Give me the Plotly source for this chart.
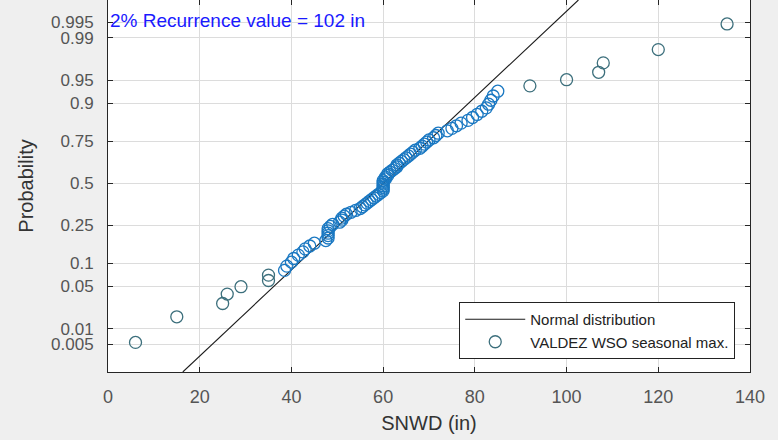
import plotly.graph_objects as go
from statistics import NormalDist

nd = NormalDist()

# seasonal max snow depth (in), sorted
snwd = [6, 15, 25, 26, 29, 35, 35, 38.5, 39, 40,
        40.5, 41.5, 42.5, 43, 44, 45, 47.5, 48, 48, 48,
        48, 48, 48.5, 49, 50.5, 51, 51, 51.5, 52, 53,
        54, 55, 55.5, 56, 56.5, 57, 57.5, 58, 58.5, 59,
        59.5, 60, 60, 60, 60, 60, 60, 60, 60.5, 60.5,
        61, 61, 61.5, 62, 62.5, 63, 63, 63.5, 64, 64.5,
        65, 65.5, 66, 66.5, 67, 68, 68.5, 69, 69.5, 70,
        71, 71.5, 72, 74, 75, 76, 77, 78.5, 79.5, 80.5,
        81.5, 82.5, 83, 83.5, 84, 85, 92, 100, 107, 108,
        120, 135]

# fitted normal (mean, std) of the reference line
fit_mean = 60.1
fit_std = 14.5

prob_ticks = [0.005, 0.01, 0.05, 0.1, 0.25, 0.5, 0.75, 0.9, 0.95, 0.99, 0.995]
prob_labels = ['0.005', '0.01', '0.05', '0.1', '0.25', '0.5', '0.75', '0.9', '0.95', '0.99', '0.995']

n = len(snwd)
prob = [(i + 0.5) / n for i in range(n)]
zq = [nd.inv_cdf(p) for p in prob]

zlo, zhi = -3.02, 2.93

# tails look greyish, dense body blue
colors = ['#3c6f7c' if (i < 7 or i >= n - 6) else '#1a78c2' for i in range(n)]

fig = go.Figure()
fig.add_trace(go.Scatter(
    x=[fit_mean + fit_std * zlo, fit_mean + fit_std * zhi], y=[zlo, zhi],
    mode='lines', line=dict(color='#1a1a1a', width=1.1),
    name='Normal distribution'))
fig.add_trace(go.Scatter(
    x=snwd, y=zq, mode='markers',
    marker=dict(symbol='circle-open', size=12, color=colors, line=dict(width=1.3)),
    name='VALDEZ WSO seasonal max.'))

fig.add_annotation(xref='paper', yref='paper', x=0.0, y=0.944, xanchor='left', yanchor='middle',
                   text='2% Recurrence value = 102 in', showarrow=False,
                   font=dict(family='Liberation Sans', size=19, color='#1a1aff'))

fig.update_layout(
    width=778, height=440,
    margin=dict(l=108, r=28, t=0, b=68),
    paper_bgcolor='#efefef', plot_bgcolor='white',
    font=dict(family='Liberation Sans', color='#444'),
    showlegend=True,
    legend=dict(x=0.977, y=0.035, xanchor='right', yanchor='bottom',
                bgcolor='white', bordercolor='#222', borderwidth=1,
                font=dict(size=15, color='#222'), tracegroupgap=0,
                itemwidth=60),
    xaxis=dict(range=[0, 140], tickvals=[0, 20, 40, 60, 80, 100, 120, 140],
               automargin=False,
               showgrid=True, gridcolor='#dcdcdc', zeroline=False,
               showline=True, linecolor='#262626', linewidth=1, mirror='ticks',
               ticks='inside', ticklen=5, tickcolor='#262626', ticklabelstandoff=8,
               tickfont=dict(size=18, color='#555'),
               title=dict(text='SNWD (in)', font=dict(size=20, color='#333'), standoff=10)),
    yaxis=dict(range=[zlo, zhi], tickvals=[nd.inv_cdf(p) for p in prob_ticks], ticktext=prob_labels,
               automargin=False,
               showgrid=True, gridcolor='#dcdcdc', zeroline=False,
               showline=True, linecolor='#262626', linewidth=1, mirror='ticks',
               ticks='inside', ticklen=5, tickcolor='#262626', ticklabelstandoff=10,
               tickfont=dict(size=17, color='#555'),
               title=dict(text='Probability', font=dict(size=20, color='#333'), standoff=12)),
)

# drop the browser's default body margin so the figure sits at the page corner
fig.write_html("out.html", config={'displayModeBar': False},
               post_script="document.body.style.margin='0';")
